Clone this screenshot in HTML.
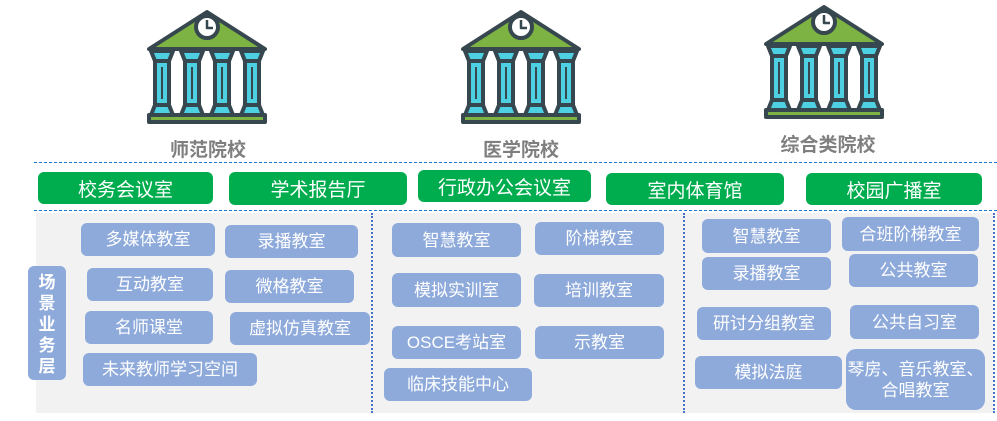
<!DOCTYPE html>
<html><head><meta charset="utf-8"><style>
html,body{margin:0;padding:0;background:#fff;width:997px;height:421px;overflow:hidden;position:relative;font-family:"Liberation Sans","Noto Sans CJK SC",sans-serif;}
.a{position:absolute;box-sizing:border-box;}
.g{background:#00ad4e;color:#fff;border-radius:6px;font-size:19px;display:flex;align-items:center;justify-content:center;}
.b{background:#8eaadb;color:#fff;border-radius:6px;font-size:17px;display:flex;align-items:center;justify-content:center;text-align:center;line-height:21px;}
.t{color:#7f7f7f;font-weight:bold;font-size:19px;text-align:center;width:160px;}
.dh{height:0;border-top:1.5px dashed #1f77d0;}
.dv{width:0;border-left:2px dotted #4472c4;}
</style></head><body>
<svg width="0" height="0" style="position:absolute"><defs>
<g id="ic" stroke="#37474f" stroke-width="4" stroke-linejoin="round">
<polygon points="2,40 60,3 118,40" fill="#7cb342"/>
<circle cx="60" cy="18" r="11" fill="#fff"/>
<path d="M60,11 V19 H66" fill="none" stroke-width="2.5"/>
<g fill="#4dd0e1">
<polygon points="4,42 26,42 22,52 8,52"/><rect x="8" y="52" width="14" height="44"/><polygon points="8,96 22,96 26,106 4,106"/>
<polygon points="34,42 56,42 52,52 38,52"/><rect x="38" y="52" width="14" height="44"/><polygon points="38,96 52,96 56,106 34,106"/>
<polygon points="64,42 86,42 82,52 68,52"/><rect x="68" y="52" width="14" height="44"/><polygon points="68,96 82,96 86,106 64,106"/>
<polygon points="94,42 116,42 112,52 98,52"/><rect x="98" y="52" width="14" height="44"/><polygon points="98,96 112,96 116,106 94,106"/>
</g>
<path d="M15,58 V90 M45,58 V90 M75,58 V90 M105,58 V90" stroke-width="2"/>
<rect x="2" y="106" width="116" height="7" fill="#7cb342"/>
</g></defs></svg>
<svg class="a" style="left:147px;top:9px" width="120" height="116" viewBox="0 0 120 116"><use href="#ic"/></svg>
<svg class="a" style="left:461px;top:9px" width="120" height="116" viewBox="0 0 120 116"><use href="#ic"/></svg>
<svg class="a" style="left:764px;top:4px" width="120" height="116" viewBox="0 0 120 116"><use href="#ic"/></svg>
<div class="a t" style="left:128px;top:135px">师范院校</div>
<div class="a t" style="left:441px;top:135px">医学院校</div>
<div class="a t" style="left:748px;top:130px">综合类院校</div>
<div class="a dh" style="left:34px;top:162px;width:963px"></div>
<div class="a dh" style="left:34px;top:210px;width:963px"></div>
<div class="a g" style="left:38px;top:172px;width:175px;height:32px">校务会议室</div>
<div class="a g" style="left:229px;top:172px;width:178px;height:33px">学术报告厅</div>
<div class="a g" style="left:418px;top:170px;width:173px;height:32px">行政办公会议室</div>
<div class="a g" style="left:606px;top:173px;width:178px;height:32px">室内体育馆</div>
<div class="a g" style="left:806px;top:173px;width:176px;height:32px">校园广播室</div>
<div class="a" style="left:36px;top:213px;width:957px;height:200px;background:#f2f2f2"></div>
<div class="a dv" style="left:371px;top:213px;height:200px"></div>
<div class="a dv" style="left:683px;top:213px;height:200px"></div>
<div class="a dv" style="left:993px;top:213px;height:200px"></div>
<div class="a b" style="left:28px;top:266px;width:38px;height:114px;font-weight:bold;font-size:17px;line-height:21px;padding-top:2px">场<br>景<br>业<br>务<br>层</div>
<div class="a b" style="left:81px;top:223px;width:134px;height:33px">多媒体教室</div>
<div class="a b" style="left:225px;top:225px;width:133px;height:33px">录播教室</div>
<div class="a b" style="left:87px;top:268px;width:126px;height:33px">互动教室</div>
<div class="a b" style="left:225px;top:270px;width:129px;height:33px">微格教室</div>
<div class="a b" style="left:85px;top:311px;width:128px;height:33px">名师课堂</div>
<div class="a b" style="left:230px;top:312px;width:140px;height:33px">虚拟仿真教室</div>
<div class="a b" style="left:83px;top:353px;width:174px;height:33px">未来教师学习空间</div>
<div class="a b" style="left:392px;top:223px;width:129px;height:34px">智慧教室</div>
<div class="a b" style="left:535px;top:222px;width:129px;height:33px">阶梯教室</div>
<div class="a b" style="left:392px;top:273px;width:129px;height:34px">模拟实训室</div>
<div class="a b" style="left:534px;top:274px;width:130px;height:33px">培训教室</div>
<div class="a b" style="left:392px;top:326px;width:129px;height:33px">OSCE考站室</div>
<div class="a b" style="left:535px;top:326px;width:129px;height:33px">示教室</div>
<div class="a b" style="left:384px;top:368px;width:148px;height:33px">临床技能中心</div>
<div class="a b" style="left:702px;top:219px;width:129px;height:34px">智慧教室</div>
<div class="a b" style="left:842px;top:217px;width:137px;height:34px">合班阶梯教室</div>
<div class="a b" style="left:702px;top:257px;width:129px;height:33px">录播教室</div>
<div class="a b" style="left:849px;top:254px;width:129px;height:33px">公共教室</div>
<div class="a b" style="left:697px;top:307px;width:134px;height:33px">研讨分组教室</div>
<div class="a b" style="left:850px;top:305px;width:129px;height:34px">公共自习室</div>
<div class="a b" style="left:695px;top:356px;width:147px;height:33px">模拟法庭</div>
<div class="a b" style="left:846px;top:349px;width:139px;height:61px;border-radius:10px">琴房、音乐教室、<br>合唱教室</div>
</body></html>
